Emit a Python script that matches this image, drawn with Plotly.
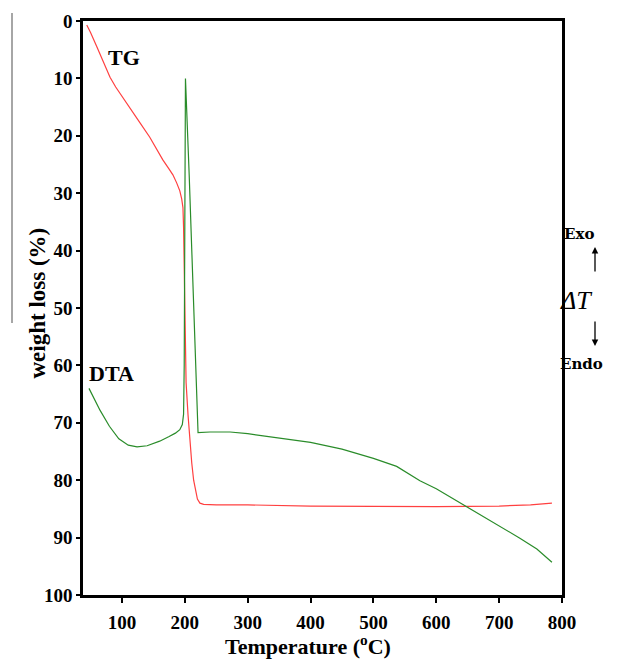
import plotly.graph_objects as go

# TG curve (weight loss %)
tg_temp = [44, 50, 60, 70, 81, 90, 102, 115, 129, 144, 155, 165, 175, 181, 187, 192, 195, 197, 198, 199,
           200, 202, 205, 208, 211, 214, 217, 220, 224, 230, 250, 300, 400, 500, 600, 700, 750, 784]
tg_wl = [0.7, 2.0, 4.5, 7.0, 9.8, 11.5, 13.5, 15.7, 17.8, 20.2, 22.3, 24.2, 25.8, 26.8, 28.2, 29.6, 31.0, 32.5, 36.0, 45.0,
         55.0, 63.0, 68.5, 73.0, 77.0, 80.0, 82.0, 83.3, 84.0, 84.2, 84.3, 84.3, 84.5, 84.6, 84.6, 84.5, 84.3, 84.0]

# DTA curve (plotted on same scale)
dta_temp = [47.5, 55, 65, 80, 95, 110, 124, 140, 160, 175, 185, 192, 196, 198, 199, 200, 201, 207, 213, 217,
            221, 240, 272, 300, 350, 400, 450, 500, 537, 574, 600, 622, 647, 700, 733, 760, 784]
dta_val = [64.0, 65.6, 67.8, 70.6, 72.8, 73.9, 74.2, 74.0, 73.2, 72.4, 71.8, 71.2, 70.3, 68.5, 60.0, 35.0, 10.0, 27.0, 45.0, 60.0,
           71.7, 71.6, 71.6, 71.9, 72.6, 73.4, 74.6, 76.2, 77.6, 80.1, 81.5, 82.9, 84.6, 88.0, 90.1, 92.0, 94.3]

x_ticks = [100, 200, 300, 400, 500, 600, 700, 800]
y_ticks = [0, 10, 20, 30, 40, 50, 60, 70, 80, 90, 100]

FONT = "Liberation Serif"
FONT2 = "DejaVu Serif"

fig = go.Figure()
fig.add_trace(go.Scatter(x=tg_temp, y=tg_wl, mode="lines", line=dict(color="#ff4040", width=1.2), name="TG"))
fig.add_trace(go.Scatter(x=dta_temp, y=dta_val, mode="lines", line=dict(color="#2a8c2a", width=1.2), name="DTA"))

L, R, T, B = 83, 562, 21, 595
W, H = 629, 660


def px(xp):
    return (xp - L) / (R - L)


def py(yp):
    return (B - yp) / (B - T)


fig.update_layout(
    width=W, height=H,
    margin=dict(l=L, r=W - R, t=T, b=H - B),
    plot_bgcolor="white", paper_bgcolor="white",
    showlegend=False,
    font=dict(family=FONT, color="black"),
)
fig.update_xaxes(range=[38, 800], tickvals=x_ticks, ticks="outside", ticklen=5, tickwidth=1.5,
                 tickcolor="black", showgrid=False, zeroline=False, showline=True, linecolor="black",
                 linewidth=2.5, mirror=True, ticklabelstandoff=3,
                 tickfont=dict(family=FONT, size=19, color="black", weight="bold"))
fig.update_yaxes(range=[100, 0], tickvals=y_ticks, ticks="outside", ticklen=4, tickwidth=1.5,
                 tickcolor="black", showgrid=False, zeroline=False, showline=True, linecolor="black",
                 linewidth=2.5, mirror=True, tickfont=dict(family=FONT, size=19, color="black", weight="bold"))

ann = []
ann.append(dict(text="<b>weight loss (%)</b>", x=px(22), y=py(303), xref="paper", yref="paper",
                textangle=-90, showarrow=False, font=dict(size=23, family=FONT)))
ann.append(dict(text="<b>Temperature (<sup>o</sup>C)</b>", x=px(308), y=py(645), xref="paper", yref="paper",
                yanchor="middle", showarrow=False, font=dict(size=22, family=FONT)))
ann.append(dict(text="<b>TG</b>", x=px(106), y=py(43), xref="paper", yref="paper", xanchor="left",
                showarrow=False, font=dict(size=22, family=FONT)))
ann.append(dict(text="<b>DTA</b>", x=px(87), y=py(373), xref="paper", yref="paper", xanchor="left",
                showarrow=False, font=dict(size=22, family=FONT)))
ann.append(dict(text="<b>Exo</b>", x=px(595.5), y=py(234), xref="paper", yref="paper",
                showarrow=False, font=dict(size=15, family=FONT2)))
ann.append(dict(text="<i>ΔT</i>", x=px(593.5), y=py(300), xref="paper", yref="paper",
                showarrow=False, font=dict(size=26, family=FONT)))
ann.append(dict(text="<b>Endo</b>", x=px(605), y=py(364), xref="paper", yref="paper",
                showarrow=False, font=dict(size=15, family=FONT2)))
ann.append(dict(text="", x=px(595), y=py(247), xref="paper", yref="paper", showarrow=True,
                ax=0, ay=26, arrowhead=2, arrowsize=1, arrowwidth=1.3, arrowcolor="black"))
ann.append(dict(text="", x=px(595), y=py(346), xref="paper", yref="paper", showarrow=True,
                ax=0, ay=-26, arrowhead=2, arrowsize=1, arrowwidth=1.3, arrowcolor="black"))
fig.update_layout(annotations=ann)

fig.add_shape(type="line", xref="paper", yref="paper", x0=px(12), x1=px(12), y0=py(13), y1=py(323),
              line=dict(color="#888888", width=1.5))

fig.write_html("out.html", config={"displayModeBar": False},
               post_script="document.body.style.margin='0';")
